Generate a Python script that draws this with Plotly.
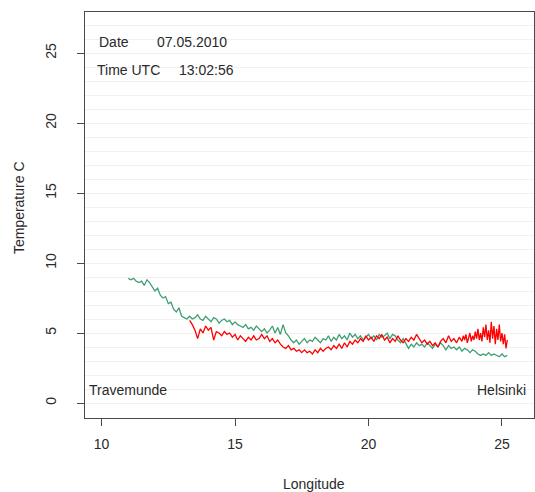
import plotly.graph_objects as go

# Green series (ship track temperature, sensor 1)
green_lon = [11.0, 11.1, 11.2, 11.3, 11.4, 11.5, 11.6, 11.7, 11.8, 11.9,
             12.0, 12.1, 12.2, 12.3, 12.4, 12.5, 12.6, 12.7, 12.8, 12.9,
             13.0, 13.1, 13.2, 13.3, 13.4, 13.5, 13.6, 13.7, 13.8, 13.9,
             14.0, 14.1, 14.2, 14.3, 14.4, 14.5, 14.6, 14.7, 14.8, 14.9,
             15.0, 15.1, 15.2, 15.3, 15.4, 15.5, 15.6, 15.7, 15.8, 15.9,
             16.0, 16.1, 16.2, 16.3, 16.4, 16.5, 16.6, 16.7, 16.8, 16.9,
             17.0, 17.1, 17.2, 17.3, 17.4, 17.5, 17.6, 17.7, 17.8, 17.9,
             18.0, 18.1, 18.2, 18.3, 18.4, 18.5, 18.6, 18.7, 18.8, 18.9,
             19.0, 19.1, 19.2, 19.3, 19.4, 19.5, 19.6, 19.7, 19.8, 19.9,
             20.0, 20.1, 20.2, 20.3, 20.4, 20.5, 20.6, 20.7, 20.8, 20.9,
             21.0, 21.1, 21.2, 21.3, 21.4, 21.5, 21.6, 21.7, 21.8, 21.9,
             22.0, 22.1, 22.2, 22.3, 22.4, 22.5, 22.6, 22.7, 22.8, 22.9,
             23.0, 23.1, 23.2, 23.3, 23.4, 23.5, 23.6, 23.7, 23.8, 23.9,
             24.0, 24.1, 24.2, 24.3, 24.4, 24.5, 24.6, 24.7, 24.8, 24.9,
             25.0, 25.1, 25.2]
green_temp = [8.9, 8.8, 8.9, 8.7, 8.6, 8.7, 8.4, 8.8, 8.6, 8.3,
              8.0, 8.2, 7.7, 7.5, 7.6, 7.1, 7.2, 6.7, 6.5, 6.8,
              6.2, 6.1, 6.0, 6.2, 6.0, 6.1, 6.3, 6.0, 5.9, 6.2,
              6.0, 5.8, 6.1, 6.0, 5.7, 5.9, 6.0, 5.8, 5.9, 5.6,
              5.8, 5.6, 5.5, 5.4, 5.6, 5.3, 5.4, 5.2, 5.5, 5.3,
              5.1, 5.3, 5.0, 5.2, 5.5, 5.0, 5.4, 4.9, 5.6, 5.0,
              4.8, 4.5, 4.3, 4.5, 4.2, 4.4, 4.6, 4.3, 4.5, 4.4,
              4.7, 4.5, 4.3, 4.6, 4.5, 4.8, 4.4, 4.7, 4.5, 4.9,
              4.6, 4.8, 4.5, 5.0, 4.7, 4.9, 4.6, 4.8, 4.5, 4.7,
              4.9, 4.6, 4.8, 4.5, 4.9, 4.7, 4.8, 5.0, 4.6, 4.9,
              4.8, 4.5, 4.3, 4.6, 4.2, 3.9, 4.2, 4.0, 4.3, 4.1,
              4.2, 4.0, 4.3, 4.1, 3.9, 4.2, 4.0, 4.3, 4.1, 3.8,
              4.1, 3.9, 4.0, 3.8, 4.0, 3.7, 3.9, 3.8, 3.6, 3.8,
              3.7, 3.5, 3.4, 3.5, 3.4, 3.6, 3.4, 3.5, 3.4, 3.3,
              3.5, 3.3, 3.4]

# Red series (sensor 2)
red_lon = [13.3, 13.4, 13.5, 13.6, 13.7, 13.8, 13.9,
           14.0, 14.1, 14.2, 14.3, 14.4, 14.5, 14.6, 14.7, 14.8, 14.9,
           15.0, 15.1, 15.2, 15.3, 15.4, 15.5, 15.6, 15.7, 15.8, 15.9,
           16.0, 16.1, 16.2, 16.3, 16.4, 16.5, 16.6, 16.7, 16.8, 16.9,
           17.0, 17.1, 17.2, 17.3, 17.4, 17.5, 17.6, 17.7, 17.8, 17.9,
           18.0, 18.1, 18.2, 18.3, 18.4, 18.5, 18.6, 18.7, 18.8, 18.9,
           19.0, 19.1, 19.2, 19.3, 19.4, 19.5, 19.6, 19.7, 19.8, 19.9,
           20.0, 20.1, 20.2, 20.3, 20.4, 20.5, 20.6, 20.7, 20.8, 20.9,
           21.0, 21.1, 21.2, 21.3, 21.4, 21.5, 21.6, 21.7, 21.8, 21.9,
           22.0, 22.1, 22.2, 22.3, 22.4, 22.5, 22.6, 22.7, 22.8, 22.9,
           23.0, 23.1, 23.2, 23.3, 23.4,
           23.50, 23.55, 23.60, 23.65, 23.70, 23.75, 23.80, 23.85, 23.90, 23.95,
           24.00, 24.05, 24.10, 24.15, 24.20, 24.25, 24.30, 24.35, 24.40, 24.45,
           24.50, 24.55, 24.60, 24.65, 24.70, 24.75, 24.80, 24.85, 24.90, 24.95,
           25.00, 25.05, 25.10, 25.15, 25.20]
red_temp = [5.9, 5.6, 5.2, 4.6, 5.3, 5.0, 5.5,
            5.2, 5.4, 4.5, 5.1, 5.0, 4.8, 5.1, 4.9, 5.0, 4.7,
            4.9, 4.5, 4.8, 4.6, 4.4, 4.7, 4.5, 4.8, 4.5, 4.6,
            4.9, 4.6, 4.8, 4.4, 4.6, 4.3, 4.5, 4.2, 4.0, 3.9,
            4.1, 3.8, 3.9, 3.7, 3.8, 3.6, 3.8, 3.6, 3.7, 3.5,
            3.8, 3.6, 3.9, 3.7, 3.9, 4.0, 3.8, 4.1, 3.9, 4.2,
            3.9, 4.3, 4.0, 4.4, 4.2, 4.5, 4.3, 4.6, 4.4, 4.8,
            4.5, 4.7, 4.4, 4.8, 4.6, 4.9, 4.5, 4.7, 4.3, 4.6,
            4.4, 4.8, 4.5, 4.3, 4.6, 4.4, 4.7, 4.5, 4.9, 4.6,
            4.3, 4.5, 4.2, 4.4, 4.1, 4.3, 4.0, 4.4, 4.6, 4.3,
            4.8, 4.4, 4.6, 4.3, 4.7,
            4.4, 4.8, 4.5, 4.9, 4.3, 4.7, 5.0, 4.4, 4.8, 4.5,
            5.1, 4.6, 5.3, 4.5, 5.0, 4.4, 5.4, 4.7, 5.6, 4.5,
            5.2, 4.3, 5.8, 4.6, 5.5, 4.2, 5.3, 4.5, 5.6, 4.4,
            5.0, 4.2, 4.9, 3.9, 4.5]

x_ticks = [10, 15, 20, 25]
y_ticks = [0, 5, 10, 15, 20, 25]

FONT = "Liberation Sans, Arial, sans-serif"
TXT = "#2a2a2a"
FS = 14

fig = go.Figure()
fig.add_trace(go.Scatter(x=green_lon, y=green_temp, mode="lines",
                         line=dict(color="#3f9f72", width=1.3), showlegend=False))
fig.add_trace(go.Scatter(x=red_lon, y=red_temp, mode="lines",
                         line=dict(color="#ff0000", width=1.3), showlegend=False))

ann = [
    dict(x=9.83, y=25.8, text="Date", xanchor="left"),
    dict(x=12.0, y=25.8, text="07.05.2010", xanchor="left"),
    dict(x=9.75, y=23.8, text="Time UTC", xanchor="left"),
    dict(x=12.83, y=23.8, text="13:02:56", xanchor="left"),
    dict(x=9.45, y=0.93, text="Travemunde", xanchor="left"),
    dict(x=25.97, y=0.93, text="Helsinki", xanchor="right"),
]
annotations = [dict(xref="x", yref="y", showarrow=False, yanchor="middle",
                    font=dict(family=FONT, size=FS, color=TXT), **a) for a in ann]
annotations.append(dict(xref="paper", yref="paper", x=0.51, y=0, yshift=-66,
                        text="Longitude", showarrow=False, xanchor="center", yanchor="middle",
                        font=dict(family=FONT, size=FS, color=TXT)))
annotations.append(dict(xref="paper", yref="paper", x=0, xshift=-66, y=0.517,
                        text="Temperature C", showarrow=False, textangle=-90,
                        xanchor="center", yanchor="middle",
                        font=dict(family=FONT, size=FS, color=TXT)))

fig.update_layout(
    width=535, height=492,
    margin=dict(l=85, r=1, t=12, b=74),
    paper_bgcolor="white", plot_bgcolor="white",
    annotations=annotations,
    xaxis=dict(range=[9.38, 26.2], tickvals=x_ticks, ticktext=[str(v) for v in x_ticks],
               showgrid=False, zeroline=False, showline=True, linecolor="#4a4a4a",
               linewidth=1.3, mirror=True, ticks="outside", ticklen=7, tickcolor="#4a4a4a",
               ticklabelstandoff=6,
               tickfont=dict(family=FONT, size=FS, color=TXT)),
    yaxis=dict(range=[-1.07, 27.93], tickvals=y_ticks, ticktext=[str(v) for v in y_ticks],
               showgrid=True, gridcolor="#f1f1f1", gridwidth=1,
               minor=dict(dtick=1, showgrid=True, gridcolor="#f1f1f1", gridwidth=1),
               zeroline=False, showline=True, linecolor="#4a4a4a",
               linewidth=1.3, mirror=True, ticks="outside", ticklen=7, tickcolor="#4a4a4a",
               tickangle=-90, ticklabelstandoff=15,
               tickfont=dict(family=FONT, size=FS, color=TXT)),
)

fig.write_html("out.html")
